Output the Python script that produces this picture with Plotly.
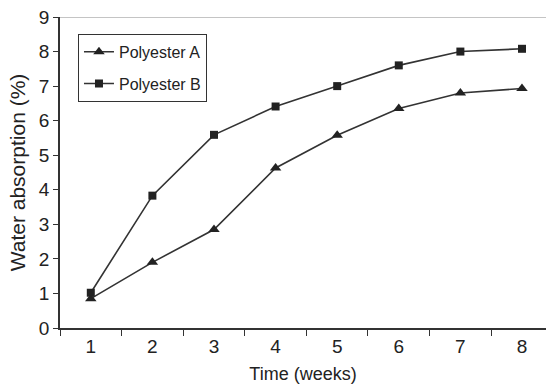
import plotly.graph_objects as go

weeks = ["1", "2", "3", "4", "5", "6", "7", "8"]
polyester_a = [0.85, 1.90, 2.85, 4.63, 5.58, 6.35, 6.80, 6.93]
polyester_b = [1.02, 3.83, 5.59, 6.41, 7.00, 7.60, 8.00, 8.08]

FONT = "Liberation Sans, Arial, sans-serif"
INK = "#222222"

fig = go.Figure()
fig.add_trace(go.Scatter(
    x=weeks, y=polyester_a, name="Polyester A", mode="lines+markers",
    legendgroup="a",
    line=dict(color="#333333", width=1.6),
    marker=dict(symbol="triangle-up", size=10, color=INK),
))
fig.add_trace(go.Scatter(
    x=weeks, y=polyester_b, name="Polyester B", mode="lines+markers",
    legendgroup="b",
    line=dict(color="#333333", width=1.6),
    marker=dict(symbol="square", size=8, color=INK),
))

# thin grey frame line along the top of the plotting area
fig.add_shape(type="line", xref="paper", yref="y", x0=0, x1=1, y0=9, y1=9,
              line=dict(color="#8a8a8a", width=1.2))

fig.update_layout(
    width=546, height=389,
    margin=dict(l=60, r=0, t=17, b=61),
    paper_bgcolor="white", plot_bgcolor="white",
    font=dict(family=FONT, color=INK, size=17),
    showlegend=True,
    legend=dict(
        x=0.037, y=0.946, xanchor="left", yanchor="top",
        bordercolor="#333333", borderwidth=1, bgcolor="white",
        font=dict(size=16, family=FONT, color=INK),
        itemwidth=30, traceorder="grouped", tracegroupgap=8,
    ),
    xaxis=dict(
        type="category", range=[-0.5, 7.39],
        tickson="boundaries", ticks="outside", ticklen=6, tickwidth=1.2,
        tickcolor="#333333", showline=True, linecolor="#333333", linewidth=1.5,
        showgrid=False, zeroline=False,
        tickfont=dict(size=19, family=FONT, color=INK),
        title=dict(text="Time (weeks)", font=dict(size=18, family=FONT, color=INK), standoff=12),
    ),
    yaxis=dict(
        range=[0, 9], tickvals=list(range(10)), ticks="outside", ticklen=5, tickwidth=1.2,
        tickcolor="#333333", showline=True, linecolor="#333333", linewidth=1.5,
        showgrid=False, zeroline=False,
        tickfont=dict(size=19, family=FONT, color=INK),
        title=dict(text="Water absorption (%)", font=dict(size=21, family=FONT, color=INK), standoff=8),
    ),
)

fig.write_html("out.html")
